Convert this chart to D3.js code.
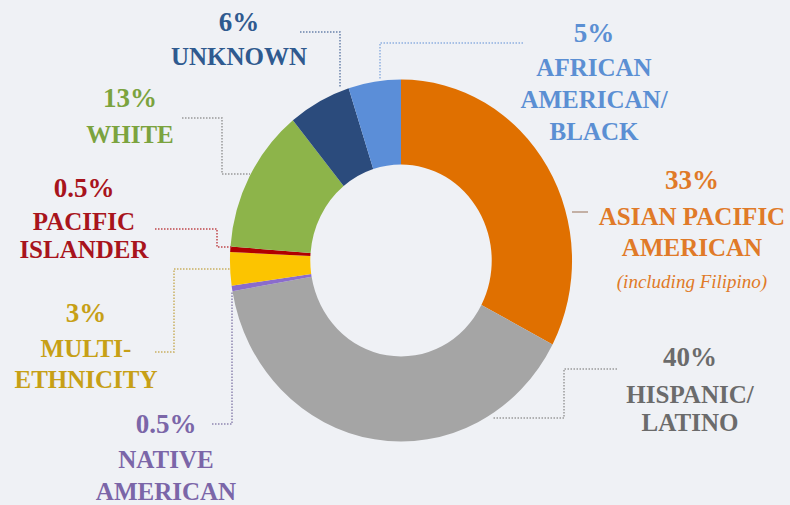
<!DOCTYPE html>
<html>
<script src="https://d3js.org/d3.v7.min.js"></script>

<head>
    <style>
        body {
            margin: 0;
            background-color: #eff1f5;
        }

        svg {
            display: block;
        }
    </style>
</head>

<body>
</body>
<script>
    // data, clockwise from 12 o'clock
    const groups = ["ASIAN PACIFIC AMERICAN", "HISPANIC/LATINO", "NATIVE AMERICAN", "MULTI-ETHNICITY",
        "PACIFIC ISLANDER", "WHITE", "UNKNOWN", "AFRICAN AMERICAN/BLACK"];
    const shares = [33, 40, 0.5, 3, 0.5, 13, 6, 5];
    const shareLabels = ["33%", "40%", "0.5%", "3%", "0.5%", "13%", "6%", "5%"];
    const labelLines = [
        ["ASIAN PACIFIC", "AMERICAN"],
        ["HISPANIC/", "LATINO"],
        ["NATIVE", "AMERICAN"],
        ["MULTI-", "ETHNICITY"],
        ["PACIFIC", "ISLANDER"],
        ["WHITE"],
        ["UNKNOWN"],
        ["AFRICAN", "AMERICAN/", "BLACK"]
    ];
    const notes = ["(including Filipino)", "", "", "", "", "", "", ""];

    const width = 790,
        height = 505;
    const cx = 401,
        cy = 260.5;
    const svg = d3.select("body").append("svg").attr("width", width).attr("height", height);

    const sliceColors = ["#e07000", "#a5a5a5", "#8a6ccc", "#fcc400", "#b00000", "#8db44a", "#2b4b7c", "#5b8ed8"];
    const textColors = ["#e07a28", "#6b6b6b", "#7b66a8", "#c7a016", "#a8141c", "#7ba33e", "#2f5a8f", "#5b8fd3"];
    const leaderColors = ["#b59a8a", "#9a9a9a", "#8f86b0", "#c9b060", "#c0474a", "#999999", "#6a82aa", "#8fb0e0"];

    // label layout: centre x, baseline of first line, line gaps
    const layout = [
        { x: 692, y: 189, gap: [36, 31], note: 288 },
        { x: 690, y: 366, gap: [37, 28] },
        { x: 166, y: 433, gap: [35, 32] },
        { x: 86, y: 322, gap: [35, 31] },
        { x: 84, y: 197, gap: [33, 28] },
        { x: 130, y: 107, gap: [36] },
        { x: 239, y: 31, gap: [34] },
        { x: 594, y: 42, gap: [34, 32, 32] }
    ];
    const leaders = [
        [[572, 212], [588, 212]],
        [[617, 369], [564, 369], [564, 418], [493, 418]],
        [[212, 424], [232, 424], [232, 292]],
        [[155, 352], [174, 352], [174, 269], [231, 269]],
        [[155, 229], [217, 229], [217, 247], [232, 247]],
        [[182, 118], [222, 118], [222, 174], [250, 174]],
        [[300, 32], [340, 32], [340, 88]],
        [[523, 43], [380, 43], [380, 80]]
    ];

    const pie = d3.pie().sort(null).value(d => d)(shares);
    const arc = d3.arc().innerRadius(96).outerRadius(181);

    // the original donut is slightly squeezed horizontally
    svg.append("g")
        .attr("transform", `translate(${cx},${cy}) scale(0.945,1)`)
        .selectAll("path")
        .data(pie)
        .join("path")
        .attr("d", arc)
        .attr("fill", (d, i) => sliceColors[i]);

    const line = d3.line();
    leaders.forEach((pts, i) => {
        svg.append("path")
            .attr("d", line(pts))
            .attr("fill", "none")
            .attr("stroke", leaderColors[i])
            .attr("stroke-width", 1.5)
            .attr("stroke-dasharray", i === 0 ? null : "1.5,1.5");
    });

    groups.forEach((g, i) => {
        const L = layout[i];
        const t = svg.append("text")
            .attr("x", L.x)
            .attr("y", L.y)
            .attr("text-anchor", "middle")
            .attr("font-family", "Liberation Serif, serif")
            .attr("font-weight", "bold")
            .attr("font-size", "25px")
            .attr("fill", textColors[i]);
        t.append("tspan").attr("x", L.x).attr("font-size", "27px").text(shareLabels[i]);
        labelLines[i].forEach((s, j) => {
            t.append("tspan").attr("x", L.x).attr("dy", L.gap[j]).text(s);
        });
        if (notes[i]) {
            svg.append("text")
                .attr("x", L.x)
                .attr("y", L.note)
                .attr("text-anchor", "middle")
                .attr("font-family", "Liberation Serif, serif")
                .attr("font-style", "italic")
                .attr("font-size", "19px")
                .attr("fill", textColors[i])
                .text(notes[i]);
        }
    });
</script>

</html>
